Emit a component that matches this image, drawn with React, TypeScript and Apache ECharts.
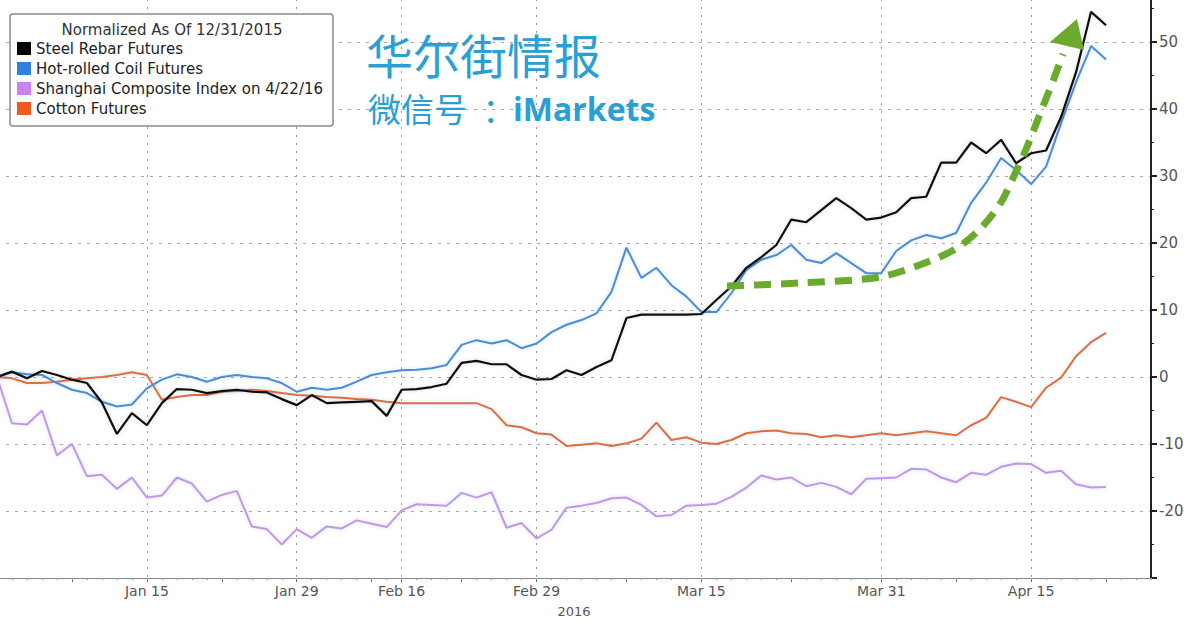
import React, { useEffect, useRef } from "react";
import * as echarts from "echarts";

const categories = [
  "Dec 31",
  "Jan 4", "Jan 5", "Jan 6", "Jan 7", "Jan 8", "Jan 11", "Jan 12", "Jan 13", "Jan 14", "Jan 15",
  "Jan 18", "Jan 19", "Jan 20", "Jan 21", "Jan 22", "Jan 25", "Jan 26", "Jan 27", "Jan 28", "Jan 29",
  "Feb 1", "Feb 2", "Feb 3", "Feb 4", "Feb 5", "Feb 15", "Feb 16", "Feb 17", "Feb 18", "Feb 19",
  "Feb 22", "Feb 23", "Feb 24", "Feb 25", "Feb 26", "Feb 29",
  "Mar 1", "Mar 2", "Mar 3", "Mar 4", "Mar 7", "Mar 8", "Mar 9", "Mar 10", "Mar 11", "Mar 14",
  "Mar 15", "Mar 16", "Mar 17", "Mar 18", "Mar 21", "Mar 22", "Mar 23", "Mar 24", "Mar 25",
  "Mar 28", "Mar 29", "Mar 30", "Mar 31",
  "Apr 1", "Apr 5", "Apr 6", "Apr 7", "Apr 8", "Apr 11", "Apr 12", "Apr 13", "Apr 14", "Apr 15",
  "Apr 18", "Apr 19", "Apr 20", "Apr 21", "Apr 22", "Apr 25", "Apr 26", "Apr 27",
];

const steelRebar = [
  0, 0.8, -0.2, 0.9, 0.3, -0.4, -0.9, -3.8, -8.5, -5.4, -7.2,
  -3.9, -1.8, -1.9, -2.4, -2.1, -1.9, -2.2, -2.3, -3.3, -4.2,
  -2.7, -3.9, -3.8, -3.7, -3.6, -5.8, -1.9, -1.8, -1.5, -1.0,
  2.1, 2.4, 1.9, 1.9, 0.3, -0.4,
  -0.3, 1.0, 0.3, 1.5, 2.5, 8.8, 9.3, 9.3, 9.3, 9.3,
  9.4, 11.5, 13.5, 16.3, 17.9, 19.7, 23.5, 23.1, 24.9,
  26.7, 25.2, 23.5, 23.8,
  24.6, 26.7, 26.9, 32.0, 32.0, 35.0, 33.4, 35.4, 31.9, 33.4,
  33.8, 38.8, 45.5, 54.5, 52.5,
];

const hotRolledCoil = [
  0, 0.7, 0.4, 0.3, -0.9, -1.9, -2.4, -3.7, -4.4, -4.1, -1.7,
  -0.4, 0.4, 0.0, -0.7, 0.0, 0.3, 0.0, -0.2, -0.9, -2.2,
  -1.6, -1.9, -1.6, -0.7, 0.3, 0.7, 1.0, 1.1, 1.3, 1.8,
  4.8, 5.5, 5.0, 5.5, 4.3, 5.0,
  6.7, 7.8, 8.5, 9.5, 12.7, 19.3, 14.8, 16.3, 13.7, 12.0,
  9.7, 9.7, 12.5, 16.0, 17.5, 18.2, 19.7, 17.5, 17.0,
  18.5, 17.0, 15.5, 15.5,
  18.8, 20.4, 21.2, 20.7, 21.5, 26.0, 29.0, 32.7, 30.9, 28.8,
  31.4, 37.9, 44.0, 49.4, 47.4,
];

const shanghaiComposite = [
  0, -6.9, -7.1, -5.0, -11.7, -10.0, -14.8, -14.6, -16.7, -15.0, -18.0,
  -17.7, -15.0, -15.9, -18.6, -17.6, -17.0, -22.3, -22.7, -25.0, -22.7,
  -24.0, -22.3, -22.6, -21.4, -21.9, -22.4, -19.9, -19.0, -19.1, -19.2,
  -17.3, -18.0, -17.2, -22.5, -21.8, -24.1,
  -22.8, -19.5, -19.2, -18.8, -18.1, -18.0, -19.1, -20.8, -20.6, -19.2,
  -19.1, -18.9, -17.9, -16.5, -14.7, -15.3, -15.0, -16.3, -15.8,
  -16.4, -17.5, -15.2, -15.1,
  -15.0, -13.7, -13.8, -15.0, -15.7, -14.3, -14.6, -13.4, -12.9, -13.0,
  -14.3, -14.0, -16.0, -16.5, -16.4,
];

const cottonFutures = [
  0, -0.2, -0.9, -0.9, -0.7, -0.4, -0.2, 0, 0.3, 0.7, 0.3,
  -3.4, -3.0, -2.7, -2.7, -2.2, -2.1, -1.9, -2.1, -2.4, -2.7,
  -2.8, -3.0, -3.1, -3.3, -3.4, -3.7, -3.9, -3.9, -3.9, -3.9,
  -3.9, -3.9, -4.8, -7.2, -7.5, -8.4,
  -8.6, -10.3, -10.1, -9.9, -10.3, -9.9, -9.2, -6.8, -9.4, -9.0,
  -9.8, -10.0, -9.4, -8.4, -8.1, -8.0, -8.4, -8.5, -9.0,
  -8.7, -9.0, -8.7, -8.4,
  -8.7, -8.4, -8.1, -8.4, -8.7, -7.2, -6.1, -3.0, -3.7, -4.5,
  -1.6, -0.1, 3.1, 5.2, 6.6,
];

const labeledDates = ["Jan 15", "Jan 29", "Feb 16", "Feb 29", "Mar 15", "Mar 31", "Apr 15"];
const tickDates = [
  "Jan 8", "Jan 15", "Jan 22", "Jan 29", "Feb 5", "Feb 16", "Feb 22", "Feb 29",
  "Mar 8", "Mar 15", "Mar 23", "Mar 31", "Apr 8", "Apr 15", "Apr 22",
];
const yTickLabels = [-20, -10, 0, 10, 20, 30, 40, 50];

const seriesNames = [
  "Steel Rebar Futures",
  "Hot-rolled Coil Futures",
  "Shanghai Composite Index on 4/22/16",
  "Cotton Futures",
];
const lineColors = ["#111111", "#4a8ed6", "#c497e6", "#de7035"];
const legendColors = ["#000000", "#2f80df", "#cc80f2", "#ef5a1f"];

const legendTitle = "Normalized As Of 12/31/2015";
const yearLabel = "2016";
const watermarkTitle = "华尔街情报";
const watermarkPrefix = "微信号";
const watermarkColon = "：";
const watermarkHandle = "iMarkets";

const arrowPoints = [
  [727, 286], [800, 283], [880, 277], [930, 261], [957, 248], [980, 229],
  [1000, 204], [1013, 178], [1027, 147], [1040, 114], [1053, 81], [1063, 54],
];
const arrowHead = [[1077, 19], [1050, 42], [1084, 50]];

const FONT = "DejaVu Sans";

export default function App() {
  const ref = useRef<HTMLDivElement>(null);

  useEffect(() => {
    if (!ref.current) return;
    const chart = echarts.init(ref.current, null, { renderer: "svg" });
    const data = [steelRebar, hotRolledCoil, shanghaiComposite, cottonFutures];

    chart.setOption({
      animation: false,
      backgroundColor: "#ffffff",
      textStyle: { fontFamily: FONT },
      grid: {
        left: -3,
        right: 41,
        top: -25,
        bottom: 42,
        containLabel: false,
        outerBoundsMode: "none",
      },
      xAxis: [
        {
          type: "category",
          data: categories,
          boundaryGap: false,
          axisLine: { show: true, onZero: false, lineStyle: { color: "#888", width: 1 } },
          axisTick: {
            show: true,
            interval: (_i: number, v: string) => tickDates.includes(v),
            length: 4,
            lineStyle: { color: "#666", width: 1 },
          },
          axisLabel: {
            interval: (_i: number, v: string) => labeledDates.includes(v),
            color: "#555",
            fontSize: 14,
            fontFamily: FONT,
            margin: 6,
          },
          splitLine: {
            show: true,
            interval: (_i: number, v: string) => labeledDates.includes(v),
            lineStyle: { color: "#9a9a9a", type: [2, 6], width: 1 },
          },
          name: yearLabel,
          nameLocation: "middle",
          nameGap: 27,
          nameTextStyle: { color: "#555", fontSize: 13, fontFamily: FONT },
        },
        {
          type: "category",
          data: categories,
          boundaryGap: false,
          position: "bottom",
          axisLine: { show: false, onZero: false },
          axisTick: { show: true, interval: 0, length: 2, lineStyle: { color: "#999" } },
          axisLabel: { show: false },
          splitLine: { show: false },
        },
      ],
      yAxis: {
        type: "value",
        position: "right",
        min: -30,
        max: 60,
        interval: 10,
        axisLine: { show: true, lineStyle: { color: "#222", width: 2 } },
        axisTick: { show: true, length: 6, lineStyle: { color: "#222", width: 2 } },
        minorTick: { show: true, splitNumber: 2, length: 3, lineStyle: { color: "#222", width: 1 } },
        axisLabel: {
          color: "#555",
          fontSize: 15,
          fontFamily: FONT,
          margin: 8,
          formatter: (v: number) => (yTickLabels.includes(v) ? String(v) : ""),
        },
        splitLine: { show: true, lineStyle: { color: "#a8a8a8", type: [3, 6], width: 1 } },
      },
      legend: {
        orient: "vertical",
        left: 17,
        top: 41,
        padding: 0,
        itemWidth: 14,
        itemHeight: 13,
        itemGap: 5,
        icon: "rect",
        selectedMode: false,
        textStyle: { fontSize: 15, color: "#222", fontFamily: FONT },
        data: seriesNames.map((n, i) => ({ name: n, itemStyle: { color: legendColors[i] } })),
      },
      series: seriesNames.map((name, i) => ({
        name,
        type: "line",
        xAxisIndex: 0,
        data: data[i],
        showSymbol: false,
        symbol: "none",
        z: i === 0 ? 6 : i === 1 ? 5 : 3,
        lineStyle: {
          color: lineColors[i],
          width: i === 0 ? 2.2 : 2,
          shadowBlur: 4,
          shadowColor: i === 0 ? "rgba(0,0,0,0.15)" : "rgba(120,170,230,0.35)",
        },
        itemStyle: { color: lineColors[i] },
      })),
      graphic: [
        {
          type: "rect",
          z: 1,
          shape: { x: 10, y: 14, width: 323, height: 112, r: 3 },
          style: { fill: "#ffffff", stroke: "#8a8a8a", lineWidth: 1.5 },
        },
        {
          type: "text",
          z: 2,
          x: 172,
          y: 30,
          style: {
            text: legendTitle,
            textAlign: "center",
            textVerticalAlign: "middle",
            fontSize: 15,
            fontFamily: FONT,
            fill: "#333",
          },
        },
        {
          type: "text",
          z: 10,
          x: 366,
          y: 53,
          style: {
            text: watermarkTitle,
            textVerticalAlign: "middle",
            fontSize: 47,
            fontFamily: "Noto Sans CJK SC",
            fill: "#2a9fd6",
          },
        },
        {
          type: "text",
          z: 10,
          x: 368,
          y: 108,
          style: {
            text: watermarkPrefix,
            textVerticalAlign: "middle",
            fontSize: 33,
            fontFamily: "Noto Sans CJK SC",
            fill: "#2a9fd6",
          },
        },
        {
          type: "text",
          z: 10,
          x: 499,
          y: 108,
          style: {
            text: watermarkColon,
            textAlign: "center",
            textVerticalAlign: "middle",
            fontSize: 33,
            fontFamily: "Noto Sans CJK SC",
            fill: "#2a9fd6",
          },
        },
        {
          type: "text",
          z: 10,
          x: 513,
          y: 108,
          style: {
            text: watermarkHandle,
            textVerticalAlign: "middle",
            fontSize: 32,
            fontWeight: "bold",
            fontFamily: "Open Sans",
            fill: "#2a9fd6",
          },
        },
        {
          type: "polyline",
          z: 20,
          shape: { points: arrowPoints, smooth: 0.3 },
          style: { stroke: "#6aab2e", lineWidth: 7, lineDash: [17, 10], fill: null },
        },
        {
          type: "polygon",
          z: 20,
          shape: { points: arrowHead },
          style: { fill: "#6aab2e" },
        },
      ],
    });

    return () => chart.dispose();
  }, []);

  return (
    <div
      ref={ref}
      style={{ position: "absolute", left: 0, top: 0, width: 1192, height: 620 }}
    />
  );
}
